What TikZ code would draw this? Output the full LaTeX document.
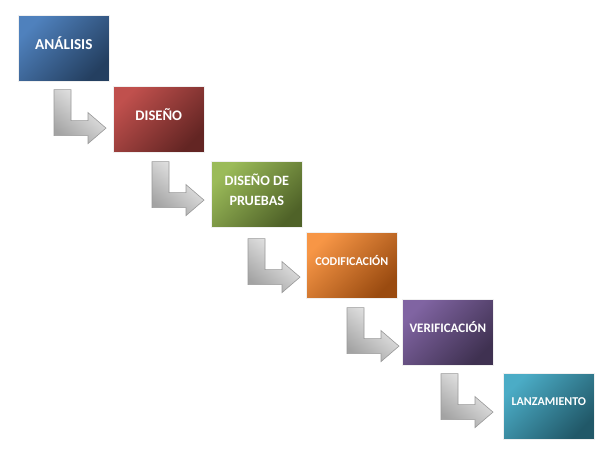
\documentclass[tikz,border=0pt]{standalone}
\usepackage{fontspec}
\setmainfont{Carlito}
\usetikzlibrary{calc}
\definecolor{blueA}{HTML}{4F81BD}\definecolor{blueB}{HTML}{243F60}
\definecolor{redA}{HTML}{C0504D}\definecolor{redB}{HTML}{632523}
\definecolor{greenA}{HTML}{9BBB59}\definecolor{greenB}{HTML}{4F6228}
\definecolor{orangeA}{HTML}{F79646}\definecolor{orangeB}{HTML}{9A4B10}
\definecolor{purpleA}{HTML}{8064A2}\definecolor{purpleB}{HTML}{3F3151}
\definecolor{aquaA}{HTML}{4BACC6}\definecolor{aquaB}{HTML}{215868}
\tikzset{
  box/.style 2 args={anchor=north west, minimum width=91pt, minimum height=66pt,
    inner sep=0pt, shading=axis, top color=#1, bottom color=#2, shading angle=45,
    draw=black!6, line width=0.6pt},
  lbl/.style={text=white, font=\bfseries, align=center, inner sep=0pt},
  arrowsty/.style={draw=gray!80, line width=0.6pt, shading=axis,
    top color=gray!10, bottom color=gray!72, shading angle=-40},
  bent/.pic={\shadedraw[arrowsty] (0,0) -- (17,0) -- (17,31) -- (34,31) -- (34,23)
     -- (52,38.5) -- (34,54) -- (34,46) -- (0,46) -- cycle;}
}
\begin{document}
\begin{tikzpicture}[x=1pt,y=-1pt]
\useasboundingbox (0,0) rectangle (613,459);
\fill[white] (0,0) rectangle (613,459);
\node[box={blueA}{blueB}]     (b1) at (18,15)  {};
\node[box={redA}{redB}]       (b2) at (113,86) {};
\node[box={greenA}{greenB}]   (b3) at (211,161) {};
\node[box={orangeA}{orangeB}] (b4) at (306,232) {};
\node[box={purpleA}{purpleB}] (b5) at (402,299) {};
\node[box={aquaA}{aquaB}]     (b6) at (503,373) {};
\node[lbl, font=\bfseries\fontsize{15.2}{16}\selectfont] (t1) at ($(b1.center)+(0,-5)$) {ANÁLISIS};
\node[lbl, font=\bfseries\fontsize{14.6}{16}\selectfont] (t2) at ($(b2.center)+(0,-5)$) {DISEÑO};
\node[lbl, font=\bfseries\fontsize{14.2}{20}\selectfont] (t3) at ($(b3.center)+(0,-5)$) {DISEÑO DE\\PRUEBAS};
\node[lbl, font=\bfseries\fontsize{12}{14}\selectfont] (t4) at ($(b4.center)+(0,-5)$) {CODIFICACIÓN};
\node[lbl, font=\bfseries\fontsize{13}{14}\selectfont] (t5) at ($(b5.center)+(0,-5)$) {VERIFICACIÓN};
\node[lbl, font=\bfseries\fontsize{12}{14}\selectfont] (t6) at ($(b6.center)+(0,-5)$) {LANZAMIENTO};
\pic at ($(b1.south west)+(36,8)$) {bent};
\pic at ($(b2.south west)+(39,9)$) {bent};
\pic at ($(b3.south west)+(37,11)$) {bent};
\pic at ($(b4.south west)+(41,9)$) {bent};
\pic at ($(b5.south west)+(39,8)$) {bent};
\end{tikzpicture}
\end{document}
